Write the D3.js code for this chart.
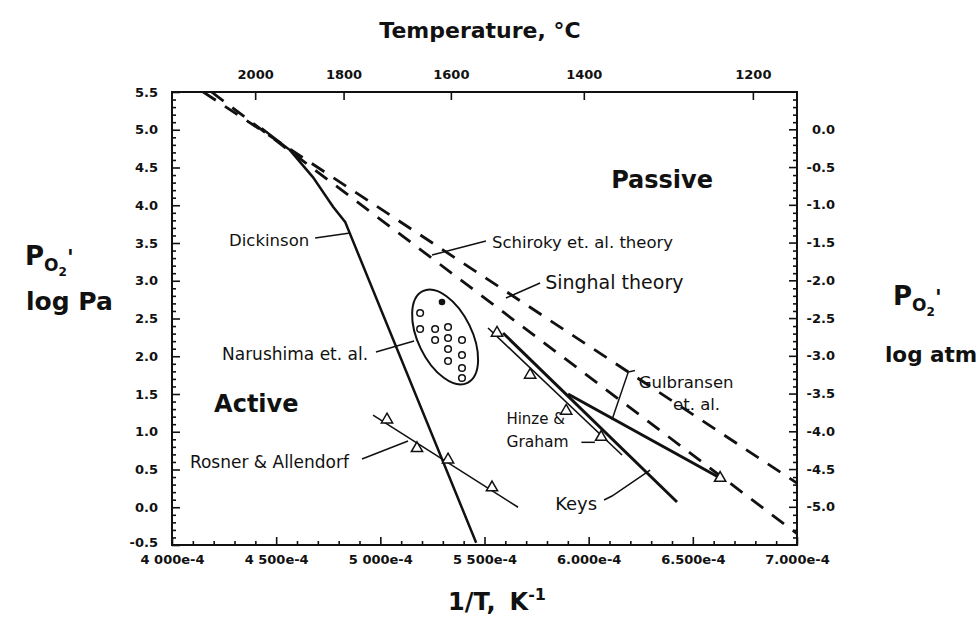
<!DOCTYPE html>
<html><head><meta charset="utf-8">
<script src="https://cdn.jsdelivr.net/npm/d3@7"></script>
<style>
body{margin:0;background:#fff}
text{font-family:"DejaVu Sans",Arial,sans-serif;fill:#111}
</style>
</head><body>
<svg id="chart" width="978" height="617"></svg>
<script>
// ---------- data (x in units of 1e-4 K^-1, y in log Pa) ----------
const xTicks = [4.0, 4.5, 5.0, 5.5, 6.0, 6.5, 7.0];
const xTickLabels = ["4 000e-4", "4 500e-4", "5 000e-4", "5 500e-4", "6.000e-4", "6.500e-4", "7.000e-4"];
const yTicks = [-0.5, 0.0, 0.5, 1.0, 1.5, 2.0, 2.5, 3.0, 3.5, 4.0, 4.5, 5.0, 5.5];
const yAtmTicks = [0.0, -0.5, -1.0, -1.5, -2.0, -2.5, -3.0, -3.5, -4.0, -4.5, -5.0];
const tempTicks = [2000, 1800, 1600, 1400, 1200];
const logPaPerAtm = Math.log10(101325);

const singhalTheory = [[4.15, 5.5], [7.0, 0.32]];
const schirokyTheory = [[4.19, 5.5], [7.0, -0.35]];
const dickinson = [[4.43, 5.02], [4.566, 4.73], [4.677, 4.37], [4.773, 3.98], [4.831, 3.78], [5.46, -0.47]];
const rosnerLine = [[4.965, 1.22], [5.661, 0.0]];
const rosnerPts = [[5.032, 1.16], [5.176, 0.78], [5.325, 0.63], [5.536, 0.26]];
const narushimaOpen = [[5.191, 2.573], [5.191, 2.361], [5.263, 2.361], [5.325, 2.387], [5.263, 2.215],
  [5.325, 2.242], [5.392, 2.215], [5.325, 2.096], [5.325, 1.937], [5.392, 2.017], [5.392, 1.844], [5.392, 1.712]];
const narushimaFilled = [[5.296, 2.719]];
const narushimaCenter = [5.311, 2.255];
const hinzeLine = [[5.517, 2.374], [6.160, 0.692]];
const hinzePts = [[5.560, 2.308], [5.719, 1.752], [5.892, 1.275], [6.060, 0.930]];
const keys = [[5.589, 2.308], [6.424, 0.070]];
const gulbransen = [[5.901, 1.500], [6.631, 0.387]];
const gulbransenPts = [[6.631, 0.387]];

// annotations: [text, x, y, size, weight]
const labels = [
  ["Passive", 6.108, 4.23, 24, "bold"],
  ["Active", 4.202, 1.26, 24, "bold"],
  ["Dickinson", 4.274, 3.46, 16.5, "normal"],
  ["Schiroky et. al. theory", 5.536, 3.434, 16.5, "normal"],
  ["Singhal theory", 5.791, 2.891, 19, "normal"],
  ["Narushima et. al.", 4.240, 1.950, 17, "normal"],
  ["Rosner & Allendorf", 4.086, 0.520, 17, "normal"],
  ["Hinze &", 5.605, 1.103, 15, "normal"],
  ["Graham", 5.605, 0.798, 15.5, "normal"],
  ["Keys", 5.839, -0.036, 18, "normal"],
  ["Gulbransen", 6.24, 1.579, 16.5, "normal"],
  ["et. al.", 6.405, 1.288, 16.5, "normal"]
];
const leaders = [
  [[4.687, 3.566], [4.855, 3.632]],
  [[5.507, 3.526], [5.248, 3.341]],
  [[5.767, 2.970], [5.603, 2.772]],
  [[4.979, 2.056], [5.162, 2.202]],
  [[4.912, 0.639], [5.133, 0.877]],
  [[5.965, 0.86], [6.03, 0.86]],
  [[6.074, 0.096], [6.112, 0.149], [6.295, 0.493]],
  [[6.222, 1.81], [6.19, 1.79], [6.112, 1.16]]
];

// ---------- layout ----------
const svg = d3.select("#chart");
const L = 172, R = 797, T = 92, B = 545;
const x = d3.scaleLinear().domain([4.0, 7.0]).range([L, R]);
const y = d3.scaleLinear().domain([-0.5, 5.5]).range([B, T]);
const yAtm = d3.scaleLinear().domain([-0.5 - logPaPerAtm, 5.5 - logPaPerAtm]).range([B, T]);
const line = d3.line().x(d => x(d[0])).y(d => y(d[1]));
const fmt1 = v => v.toFixed(1);

// frame
svg.append("rect").attr("x", L).attr("y", T).attr("width", R - L).attr("height", B - T)
  .attr("fill", "none").attr("stroke", "#111").attr("stroke-width", 2);

function styleAxis(g) {
  g.select(".domain").remove();
  g.selectAll("line").attr("stroke", "#111").attr("stroke-width", 1.6);
  g.selectAll("text").style("font-family", "DejaVu Sans").style("font-size", "13px")
    .style("font-weight", "bold").attr("fill", "#111");
}
// minor ticks
const minorY = d3.range(-0.4, 5.5, 0.1).filter(v => Math.abs(v * 2 - Math.round(v * 2)) > 1e-6);
const minorX = d3.range(4.1, 7.0, 0.1).filter(v => Math.abs(v * 2 - Math.round(v * 2)) > 1e-6);
svg.append("g").attr("transform", `translate(${L},0)`).call(d3.axisLeft(y).tickValues(minorY).tickSize(-4).tickFormat("")).call(styleAxis);
svg.append("g").attr("transform", `translate(${R},0)`).call(d3.axisRight(y).tickValues(minorY).tickSize(-4).tickFormat("")).call(styleAxis);
svg.append("g").attr("transform", `translate(0,${B})`).call(d3.axisBottom(x).tickValues(minorX).tickSize(-4).tickFormat("")).call(styleAxis);

const gl = svg.append("g").attr("transform", `translate(${L},0)`)
  .call(d3.axisLeft(y).tickValues(yTicks).tickSize(-8).tickPadding(14).tickFormat(fmt1))
  .call(styleAxis);
gl.selectAll("text").filter(d => d < 0).attr("dy", "0.1em");
const gr = svg.append("g").attr("transform", `translate(${R},0)`)
  .call(d3.axisRight(yAtm).tickValues(yAtmTicks).tickSize(-8).tickPadding(38).tickFormat(fmt1))
  .call(styleAxis);
gr.selectAll("text").attr("text-anchor", "end");
svg.append("g").attr("transform", `translate(0,${B})`)
  .call(d3.axisBottom(x).tickValues(xTicks).tickSize(-8).tickPadding(10).tickFormat((d, i) => xTickLabels[i]))
  .call(styleAxis);
svg.append("g").attr("transform", `translate(0,${T})`)
  .call(d3.axisTop(x).tickValues(tempTicks.map(t => 1e4 / (t + 273.15))).tickSize(-8).tickPadding(13)
    .tickFormat((d, i) => tempTicks[i]))
  .call(styleAxis);

// axis titles
svg.append("text").attr("x", 480).attr("y", 38).attr("text-anchor", "middle")
  .style("font-size", "22px").style("font-weight", "bold").text("Temperature, °C");
const bt = svg.append("text").attr("x", 497).attr("y", 610).attr("text-anchor", "middle")
  .style("font-size", "24px").style("font-weight", "bold");
bt.append("tspan").text("1/T,");
bt.append("tspan").attr("dx", 14).text("K");
bt.append("tspan").attr("dy", -10).style("font-size", "16px").text("-1");

function pLabel(px, py) {
  const t = svg.append("text").attr("x", px).attr("y", py).style("font-size", "26px").style("font-weight", "bold");
  t.append("tspan").text("P");
  t.append("tspan").attr("dy", 6).style("font-size", "17px").text("O");
  t.append("tspan").attr("dy", 5).style("font-size", "12px").text("2");
  t.append("tspan").attr("dy", -11).style("font-size", "22px").text("'");
}
pLabel(25, 265);
svg.append("text").attr("x", 26).attr("y", 310).style("font-size", "25px").style("font-weight", "bold").text("log Pa");
pLabel(893, 305);
svg.append("text").attr("x", 885).attr("y", 362).style("font-size", "21.5px").style("font-weight", "bold").text("log atm");

// clip for plot area
svg.append("clipPath").attr("id", "clip").append("rect").attr("x", L).attr("y", T).attr("width", R - L).attr("height", B - T);
const plot = svg.append("g").attr("clip-path", "url(#clip)");

// dashed theory lines
[singhalTheory, schirokyTheory].forEach(s => {
  plot.append("path").attr("d", line(s)).attr("fill", "none").attr("stroke", "#111")
    .attr("stroke-width", 2.8).attr("stroke-dasharray", "15,11");
});
// solid lines
plot.append("path").attr("d", line(dickinson)).attr("fill", "none").attr("stroke", "#111").attr("stroke-width", 2.5);
plot.append("path").attr("d", line(rosnerLine)).attr("fill", "none").attr("stroke", "#111").attr("stroke-width", 1.6);
plot.append("path").attr("d", line(hinzeLine)).attr("fill", "none").attr("stroke", "#111").attr("stroke-width", 1.6);
plot.append("path").attr("d", line(keys)).attr("fill", "none").attr("stroke", "#111").attr("stroke-width", 3);
plot.append("path").attr("d", line(gulbransen)).attr("fill", "none").attr("stroke", "#111").attr("stroke-width", 3);

// triangles
const tri = d3.symbol().type(d3.symbolTriangle).size(55);
[rosnerPts, hinzePts, gulbransenPts].forEach(pts => {
  plot.selectAll(null).data(pts).enter().append("path").attr("d", tri)
    .attr("transform", d => `translate(${x(d[0])},${y(d[1])})`)
    .attr("fill", "#fff").attr("stroke", "#111").attr("stroke-width", 1.5);
});
// Narushima
plot.append("ellipse").attr("cx", x(narushimaCenter[0])).attr("cy", y(narushimaCenter[1]))
  .attr("rx", 51).attr("ry", 27)
  .attr("transform", `rotate(64 ${x(narushimaCenter[0])} ${y(narushimaCenter[1])})`)
  .attr("fill", "none").attr("stroke", "#111").attr("stroke-width", 2);
plot.selectAll(null).data(narushimaOpen).enter().append("circle")
  .attr("cx", d => x(d[0])).attr("cy", d => y(d[1])).attr("r", 3.3)
  .attr("fill", "#fff").attr("stroke", "#111").attr("stroke-width", 1.5);
plot.selectAll(null).data(narushimaFilled).enter().append("circle")
  .attr("cx", d => x(d[0])).attr("cy", d => y(d[1])).attr("r", 3.3).attr("fill", "#111");

// leaders
leaders.forEach(l => {
  svg.append("path").attr("d", line(l)).attr("fill", "none").attr("stroke", "#111").attr("stroke-width", 1.5);
});
// labels
labels.forEach(([t, lx, ly, fs, fw]) => {
  svg.append("text").attr("x", x(lx)).attr("y", y(ly)).style("font-size", fs + "px").style("font-weight", fw).text(t);
});
</script>
</body></html>
